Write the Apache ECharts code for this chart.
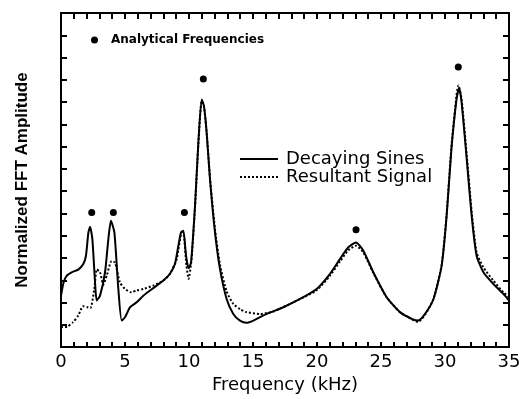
<!DOCTYPE html>
<html><head><meta charset="utf-8">
<script src="https://cdn.jsdelivr.net/npm/echarts@6/dist/echarts.min.js"></script>
<style>html,body{margin:0;padding:0;background:#fff}#c{width:526px;height:399px}</style>
</head><body><div id="c"></div>
<script>
// Analytical frequencies (kHz) and their marker heights
const analyticFreq = [2.4, 4.09, 9.64, 11.12, 23.05, 31.04];
const analyticAmp  = [6.04, 6.04, 6.04, 12.04, 5.27, 12.58];

// Decaying Sines (solid)
const sinesFreq = [0, 0.2, 0.44, 0.83, 1.35, 1.74, 1.95, 2.14, 2.27, 2.45, 2.66, 2.79, 3.05, 3.44, 3.7, 3.9, 4.17, 4.48, 4.74, 5.0, 5.4, 5.91, 6.43, 6.95, 7.47, 8.0, 8.5, 8.9, 9.17, 9.38, 9.56, 9.77, 9.97, 10.16, 10.47, 10.73, 10.99, 11.17, 11.38, 11.64, 12.03, 12.42, 12.94, 13.46, 13.98, 14.5, 15.03, 16.07, 17.37, 18.67, 19.97, 21.0, 21.8, 22.45, 23.05, 23.62, 24.4, 25.44, 26.48, 27.4, 27.9, 28.44, 29.1, 29.74, 30.13, 30.5, 30.9, 31.1, 31.3, 31.7, 32.08, 32.47, 33.0, 33.77, 34.56, 35];
const sinesAmp  = [2.3, 2.9, 3.2, 3.36, 3.48, 3.73, 4.1, 5.15, 5.4, 4.85, 2.9, 2.09, 2.31, 3.36, 4.85, 5.67, 5.15, 2.61, 1.19, 1.34, 1.79, 2.01, 2.31, 2.54, 2.76, 2.99, 3.28, 3.73, 4.55, 5.15, 5.22, 4.1, 3.54, 3.8, 6.34, 9.18, 11.12, 10.82, 9.63, 7.54, 5.15, 3.51, 2.16, 1.49, 1.19, 1.09, 1.19, 1.49, 1.79, 2.16, 2.61, 3.28, 3.96, 4.48, 4.7, 4.33, 3.36, 2.24, 1.57, 1.27, 1.19, 1.49, 2.16, 3.66, 5.9, 8.88, 11.12, 11.64, 10.97, 8.43, 5.9, 4.1, 3.36, 2.84, 2.39, 2.09];

// Resultant Signal (dotted)
const resultFreq = [0, 0.5, 0.94, 1.35, 1.72, 2.06, 2.3, 2.6, 2.8, 3.05, 3.3, 3.57, 3.95, 4.22, 4.6, 5.0, 5.5, 5.9, 6.43, 7.2, 8.0, 8.5, 9.04, 9.43, 9.6, 9.8, 9.97, 10.2, 10.47, 10.73, 10.99, 11.17, 11.38, 11.64, 12.03, 12.42, 12.94, 13.46, 14.0, 14.5, 15.55, 16.6, 18.67, 19.97, 21.0, 21.8, 22.45, 23.05, 23.62, 24.4, 25.44, 26.48, 27.4, 27.9, 28.44, 29.1, 29.74, 30.13, 30.5, 30.9, 31.05, 31.3, 31.7, 32.08, 32.47, 33.0, 33.77, 34.56, 35];
const resultAmp  = [0.9, 0.92, 1.12, 1.42, 1.83, 1.79, 1.75, 2.6, 3.49, 3.36, 2.8, 3.21, 3.86, 3.8, 2.91, 2.61, 2.46, 2.54, 2.61, 2.76, 2.99, 3.28, 3.96, 5.15, 5.0, 3.66, 3.06, 3.96, 6.3, 9.1, 11.05, 10.8, 9.6, 7.6, 5.3, 3.7, 2.5, 1.94, 1.7, 1.57, 1.49, 1.6, 2.16, 2.55, 3.2, 3.85, 4.35, 4.55, 4.25, 3.33, 2.24, 1.57, 1.25, 1.13, 1.45, 2.16, 3.7, 6.0, 9.0, 11.3, 11.75, 11.1, 8.6, 6.1, 4.25, 3.58, 2.99, 2.46, 2.24];

// Tick labels shown every 5 kHz
const xLabelStep = 5;

const zip = (a, b) => a.map((v, i) => [v, b[i]]);

const chart = echarts.init(document.getElementById('c'));
const font = 'DejaVu Sans';
const mkTick = (len) => ({show: true, inside: true, length: len, lineStyle: {color: '#000', width: 2}});
// thin strips along the top and bottom edges; their split lines act as the inward x ticks
const tickStripX = (gi) => ({
  type: 'value', gridIndex: gi, min: 0, max: 35, interval: 1,
  axisLine: {show: false, onZero: false}, axisTick: {show: false}, axisLabel: {show: false},
  splitLine: {show: true, lineStyle: {color: '#000', width: 2}}
});
const tickStripY = (gi) => ({
  type: 'value', gridIndex: gi, min: 0, max: 1,
  axisLine: {show: false}, axisTick: {show: false}, axisLabel: {show: false}, splitLine: {show: false}
});
const solidIcon = 'path://M0,0h38v2h-38z';
const dotIcon = 'path://M0,0h2v2h-2zM4,0h2v2h-2zM8,0h2v2h-2zM12,0h2v2h-2zM16,0h2v2h-2zM20,0h2v2h-2zM24,0h2v2h-2zM28,0h2v2h-2zM32,0h2v2h-2zM36,0h2v2h-2z';
chart.setOption({
  animation: false,
  grid: [
    {left: 61, right: 17, top: 13, bottom: 51},
    {left: 61, right: 17, bottom: 51, height: 6},
    {left: 61, right: 17, top: 13, height: 6}
  ],
  legend: [
    {data: ['Analytical Frequencies'], left: 86, top: 29, itemWidth: 7, itemHeight: 7,
     itemStyle: {opacity: 1},
     textStyle: {fontFamily: font, fontWeight: 'bold', fontSize: 12, color: '#000', padding: [0, 0, 0, 8]}},
    {data: [{name: 'Decaying Sines', icon: solidIcon}, {name: 'Resultant Signal', icon: dotIcon}],
     orient: 'vertical', left: 235, top: 145,
     itemWidth: 38, itemHeight: 2, itemGap: 0,
     textStyle: {fontFamily: font, fontSize: 18, color: '#000', padding: [0, 0, 0, 3], lineHeight: 18}}
  ],
  xAxis: [
    {type: 'value', min: 0, max: 35, interval: 1, position: 'bottom',
     name: 'Frequency (kHz)', nameLocation: 'middle', nameGap: 28,
     nameTextStyle: {fontFamily: font, fontSize: 18, color: '#000'},
     axisLine: {onZero: false, lineStyle: {color: '#000', width: 2}},
     axisTick: {show: false},
     axisLabel: {fontFamily: font, fontSize: 18, color: '#000', margin: 6,
                 formatter: v => (v % xLabelStep === 0 ? String(v) : '')},
     splitLine: {show: false}},
    {type: 'value', min: 0, max: 35, interval: 1, position: 'top',
     axisLine: {show: true, onZero: false, lineStyle: {color: '#000', width: 2}},
     axisTick: {show: false}, axisLabel: {show: false}, splitLine: {show: false}},
    tickStripX(1),
    tickStripX(2)
  ],
  yAxis: [
    {type: 'value', min: 0, max: 15, interval: 1, position: 'left',
     name: 'Normalized FFT Amplitude', nameLocation: 'middle', nameGap: 30,
     nameTextStyle: {fontFamily: 'Liberation Sans', fontWeight: 'bold', fontSize: 17, color: '#000'},
     axisLine: {show: true, onZero: false, lineStyle: {color: '#000', width: 2}},
     axisTick: mkTick(6), axisLabel: {show: false}, splitLine: {show: false}},
    {type: 'value', min: 0, max: 15, interval: 1, position: 'right',
     axisLine: {show: true, onZero: false, lineStyle: {color: '#000', width: 2}},
     axisTick: mkTick(6), axisLabel: {show: false}, splitLine: {show: false}},
    tickStripY(1),
    tickStripY(2)
  ],
  series: [
    {name: 'Decaying Sines', type: 'line', data: zip(sinesFreq, sinesAmp),
     symbol: 'none', smooth: 0.2, lineStyle: {color: '#000', width: 2}, itemStyle: {color: '#000'}},
    {name: 'Resultant Signal', type: 'line', data: zip(resultFreq, resultAmp),
     symbol: 'none', smooth: 0.2, lineStyle: {color: '#000', width: 2, type: [2, 2]}, itemStyle: {color: '#000'}},
    {name: 'Analytical Frequencies', type: 'scatter', data: zip(analyticFreq, analyticAmp),
     symbol: 'circle', symbolSize: 7, itemStyle: {color: '#000', opacity: 1}}
  ]
});
</script></body></html>
